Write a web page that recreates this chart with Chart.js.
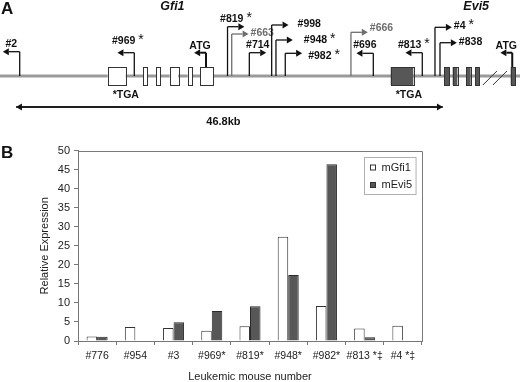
<!DOCTYPE html>
<html>
<head>
<meta charset="utf-8">
<script src="https://cdn.jsdelivr.net/npm/chart.js@4.4.1/dist/chart.umd.min.js"></script>
<style>
  html, body { margin: 0; padding: 0; background: #fff; }
  #wrap { position: relative; width: 520px; height: 382px; overflow: hidden; }
  #mapCanvas { position: absolute; left: 0; top: 0; }
  #barCanvas { position: absolute; left: 0; top: 140px; }
</style>
</head>
<body>
<div id="wrap">
  <canvas id="mapCanvas" width="520" height="140"></canvas>
  <canvas id="barCanvas" width="520" height="242"></canvas>
</div>
<script>
// --- DATA: panel A (positions in kb along the locus) ---
const geneNames = ['Gfi1', 'Evi5'];
const geneLabelKb = [18.9, 52.2];
const gfi1Exons = [[11.8, 13.78], [15.71, 16.19], [17.13, 17.61], [18.6, 19.54], [20.57, 21.05], [21.96, 23.42]];
const evi5Exons = [[42.83, 45.3], [48.7, 49.22], [49.62, 50.13], [51.08, 51.59], [52.07, 52.54], [55.98, 56.45]];
const atgKb = [22.58, 56.15];
const siteNames  = ['#2', '#969 *', '#819 *', '#663', '#714', '#998', '#948 *', '#982 *', '#666', '#696', '#813 *', '#4 *', '#838'];
const siteKb     = [2.16, 14.72, 24.94, 25.4, 27.33, 29.78, 30.25, 31.27, 38.47, 40.92, 46.29, 47.68, 48.23];
const siteDir    = [-1, -1, 1, 1, 1, 1, 1, 1, 1, -1, -1, 1, 1];
const siteHeight = [24.3, 23.3, 49.3, 42, 23.3, 51, 36, 22.7, 43.7, 22.7, 23.3, 48.7, 33.3];
const spanKb = [1.75, 48.55];
const spanLabel = '46.8kb';
const breakKb = 54.25;

// --- DATA: panel B ---
const mice = ['#776', '#954', '#3', '#969*', '#819*', '#948*', '#982*', '#813 *\u2021', '#4 *\u2021'];
const mGfi1 = [1.2, 3.7, 3.4, 2.7, 3.9, 27.4, 9.2, 3.3, 4.0];
const mEvi5 = [1.1, null, 4.9, 7.9, 9.1, 17.3, 46.4, 1.0, null];
const yTicks = [0, 5, 10, 15, 20, 25, 30, 35, 40, 45, 50];

// --- styles / layout ---
const FONT = "'Liberation Sans', Arial, Helvetica, sans-serif";
Chart.defaults.font.family = FONT;
Chart.defaults.color = '#222';
const greySites = ['#663', '#666'];
const labelAtTip = ['#663', '#998', '#948 *', '#982 *', '#666', '#4 *', '#838'];
const labelNudge = { '#998': [7, 0], '#948 *': [9, 1], '#982 *': [4, 4], '#666': [0, -3], '#969 *': [2, -4] };
const ARROW_KB = 1.85;

function arrowLine(ctx, x0, y0, x1, y1, color, width) {
    const ang = Math.atan2(y1 - y0, x1 - x0);
    const head = 6, half = 3.5;
    ctx.strokeStyle = color; ctx.fillStyle = color; ctx.lineWidth = width;
    ctx.beginPath();
    ctx.moveTo(x0, y0);
    ctx.lineTo(x1 - Math.cos(ang) * head, y1 - Math.sin(ang) * head);
    ctx.stroke();
    ctx.beginPath();
    ctx.moveTo(x1, y1);
    ctx.lineTo(x1 - Math.cos(ang) * head - Math.sin(ang) * half, y1 - Math.sin(ang) * head + Math.cos(ang) * half);
    ctx.lineTo(x1 - Math.cos(ang) * head + Math.sin(ang) * half, y1 - Math.sin(ang) * head - Math.cos(ang) * half);
    ctx.closePath();
    ctx.fill();
}

// site label: bold number, bigger plain asterisk
function siteLabel(ctx, name, x, y, align) {
    const star = name.endsWith(' *');
    const base = star ? name.slice(0, -1) : name;
    ctx.font = `bold 10.5px ${FONT}`;
    const w1 = ctx.measureText(base).width;
    ctx.font = `14px ${FONT}`;
    const w2 = star ? ctx.measureText('*').width : 0;
    let left = align === 'center' ? x - (w1 + w2) / 2 : x;
    ctx.textAlign = 'left';
    ctx.font = `bold 10.5px ${FONT}`;
    ctx.fillText(base, left, y);
    if (star) {
        ctx.font = `14px ${FONT}`;
        ctx.fillText('*', left + w1, y - 1);
    }
}

// panel A: locus map drawn through the chart's scales
const genomeMap = {
    id: 'genomeMap',
    afterDraw(chart) {
        const { ctx, scales: { x, y } } = chart;
        const px = kb => x.getPixelForValue(kb);
        const py = v => y.getPixelForValue(v);
        ctx.save();

        // genome line
        ctx.strokeStyle = '#9a9a9a'; ctx.lineWidth = 3;
        ctx.beginPath(); ctx.moveTo(px(x.min), py(0)); ctx.lineTo(px(x.max), py(0)); ctx.stroke();

        // break mark
        ctx.strokeStyle = '#333'; ctx.lineWidth = 1;
        [-5, 5].forEach(d => {
            ctx.beginPath();
            ctx.moveTo(px(breakKb) + d - 7, py(-9));
            ctx.lineTo(px(breakKb) + d + 7, py(5));
            ctx.stroke();
        });

        // exons
        const box = (e, fill) => {
            const l = px(e[0]), r = px(e[1]);
            ctx.fillStyle = fill; ctx.strokeStyle = '#333'; ctx.lineWidth = 1;
            ctx.fillRect(l, py(9), r - l, py(-9) - py(9));
            ctx.strokeRect(Math.round(l) + 0.5, Math.round(py(9)) + 0.5, Math.round(r - l), Math.round(py(-9) - py(9)));
        };
        gfi1Exons.forEach(e => box(e, '#fff'));
        evi5Exons.forEach(e => box(e, '#575757'));

        ctx.font = `bold 10.5px ${FONT}`;
        ctx.textBaseline = 'middle';

        // *TGA labels under the stop-codon exon of each gene
        ctx.fillStyle = '#111'; ctx.textAlign = 'left';
        ctx.fillText('*TGA', px(gfi1Exons[0][0]) + 5, py(-19));
        ctx.fillText('*TGA', px(evi5Exons[0][0]) + 5, py(-19));

        // ATG arrows
        atgKb.forEach(kb => {
            const sx = px(kb), top = py(23.3);
            ctx.strokeStyle = '#111'; ctx.lineWidth = 2;
            ctx.beginPath(); ctx.moveTo(sx, py(9)); ctx.lineTo(sx, top); ctx.stroke();
            arrowLine(ctx, sx, top, px(kb - 1.3), top, '#111', 2);
            ctx.font = `bold 10.5px ${FONT}`;
            ctx.fillStyle = '#111'; ctx.textAlign = 'center';
            ctx.fillText('ATG', (sx + px(kb - 1.3)) / 2, top - 7);
        });

        // insertion sites
        siteNames.forEach((name, i) => {
            const col = greySites.includes(name) ? '#6e6e6e' : '#111';
            const sx = px(siteKb[i]), top = py(siteHeight[i]);
            const tip = px(siteKb[i] + siteDir[i] * ARROW_KB);
            ctx.strokeStyle = col; ctx.lineWidth = 1.3;
            ctx.beginPath(); ctx.moveTo(sx, py(0)); ctx.lineTo(sx, top); ctx.stroke();
            arrowLine(ctx, sx, top, tip, top, col, 1.3);
            const [dx, dy] = labelNudge[name] || [0, 0];
            ctx.fillStyle = col;
            if (labelAtTip.includes(name)) {
                siteLabel(ctx, name, tip + 2 + dx, top - 1 + dy, 'left');
            } else {
                siteLabel(ctx, name, (sx + tip) / 2 + dx, top - 8 + dy, 'center');
            }
        });

        // scale bar
        const sy = py(-31);
        arrowLine(ctx, px(spanKb[1]), sy, px(spanKb[0]), sy, '#111', 1.5);
        arrowLine(ctx, px(spanKb[0]), sy, px(spanKb[1]), sy, '#111', 1.5);
        ctx.font = `bold 11px ${FONT}`; ctx.fillStyle = '#111'; ctx.textAlign = 'center';
        ctx.fillText(spanLabel, px((spanKb[0] + spanKb[1]) / 2) - 6, py(-45.7));

        // gene names
        ctx.font = `italic bold 12.5px ${FONT}`;
        geneNames.forEach((g, i) => ctx.fillText(g, px(geneLabelKb[i]), py(69)));

        // panel letter
        ctx.font = `bold 17px ${FONT}`; ctx.textAlign = 'left';
        ctx.fillText('A', 1, 9);
        ctx.restore();
    }
};

new Chart(document.getElementById('mapCanvas'), {
    type: 'scatter',
    data: { datasets: [{ data: [] }] },
    options: {
        responsive: false,
        animation: false,
        events: [],
        layout: { padding: 0 },
        plugins: { legend: { display: false }, tooltip: { enabled: false } },
        scales: {
            x: { type: 'linear', min: 0, max: 57, display: false },
            y: { type: 'linear', min: -64, max: 76, display: false }
        }
    },
    plugins: [genomeMap]
});

// panel B: frame, legend box and letter
const frameAndLegend = {
    id: 'frameAndLegend',
    afterDraw(chart) {
        const { ctx, chartArea: a } = chart;
        ctx.save();
        ctx.strokeStyle = '#7a7a7a'; ctx.lineWidth = 1;
        ctx.beginPath();
        ctx.moveTo(Math.round(a.left) + 0.5, Math.round(a.top) + 0.5);
        ctx.lineTo(Math.round(a.right) + 0.5, Math.round(a.top) + 0.5);
        ctx.lineTo(Math.round(a.right) + 0.5, Math.round(a.bottom) + 0.5);
        ctx.stroke();

        ctx.font = `11px ${FONT}`;
        const ds = chart.data.datasets;
        const tw = Math.max(...ds.map(d => ctx.measureText(d.label).width));
        const bw = 17 + tw + 4, bh = 37;
        const bx = Math.round(a.right - 6 - bw) + 0.5, by = Math.round(a.top + 6) + 0.5;
        ctx.fillStyle = '#fff'; ctx.fillRect(bx, by, bw, bh);
        ctx.strokeStyle = '#b0b0b0'; ctx.strokeRect(bx, by, bw, bh);
        ds.forEach((d, i) => {
            const cy = by + 10 + i * 17.5;
            ctx.fillStyle = d.backgroundColor; ctx.fillRect(bx + 6, cy - 2.5, 5, 5);
            ctx.strokeStyle = '#333'; ctx.strokeRect(bx + 6, cy - 2.5, 5, 5);
            ctx.fillStyle = '#222'; ctx.textAlign = 'left'; ctx.textBaseline = 'middle';
            ctx.fillText(d.label, bx + 17, cy);
        });

        ctx.font = `bold 17px ${FONT}`; ctx.fillStyle = '#111';
        ctx.textBaseline = 'middle';
        ctx.fillText('B', 1, 13);
        ctx.restore();
    }
};

new Chart(document.getElementById('barCanvas'), {
    type: 'bar',
    data: {
        labels: mice,
        datasets: [
            { label: 'mGfi1', data: mGfi1, backgroundColor: '#ffffff', borderColor: '#333333', borderWidth: 1 },
            { label: 'mEvi5', data: mEvi5, backgroundColor: '#575757', borderColor: '#2a2a2a', borderWidth: 1 }
        ]
    },
    options: {
        responsive: false,
        animation: false,
        events: [],
        layout: { padding: { left: 34, right: 98, top: 10, bottom: 0 } },
        datasets: { bar: { categoryPercentage: 0.55, barPercentage: 1 } },
        plugins: { legend: { display: false }, tooltip: { enabled: false } },
        scales: {
            x: {
                afterFit: s => { s.height = 41; },
                grid: { offset: true, drawOnChartArea: false, tickLength: 4, color: '#777' },
                border: { color: '#777' },
                ticks: { autoSkip: false, maxRotation: 0, padding: 5, font: { size: 10.5 }, color: '#222' },
                title: { display: true, text: 'Leukemic mouse number', font: { size: 11, lineHeight: 1 }, color: '#222', padding: { top: 2, bottom: 0 } }
            },
            y: {
                min: 0, max: 50,
                afterFit: s => { s.width = 44; },
                afterBuildTicks: s => { s.ticks = yTicks.map(v => ({ value: v })); },
                grid: { drawOnChartArea: false, tickLength: 4, color: '#777' },
                border: { color: '#777' },
                ticks: { padding: 4, font: { size: 11 }, color: '#222' },
                title: { display: true, text: 'Relative Expression', font: { size: 11, lineHeight: 1 }, color: '#222', padding: { top: 5, bottom: 0 } }
            }
        }
    },
    plugins: [frameAndLegend]
});
</script>
</body>
</html>
